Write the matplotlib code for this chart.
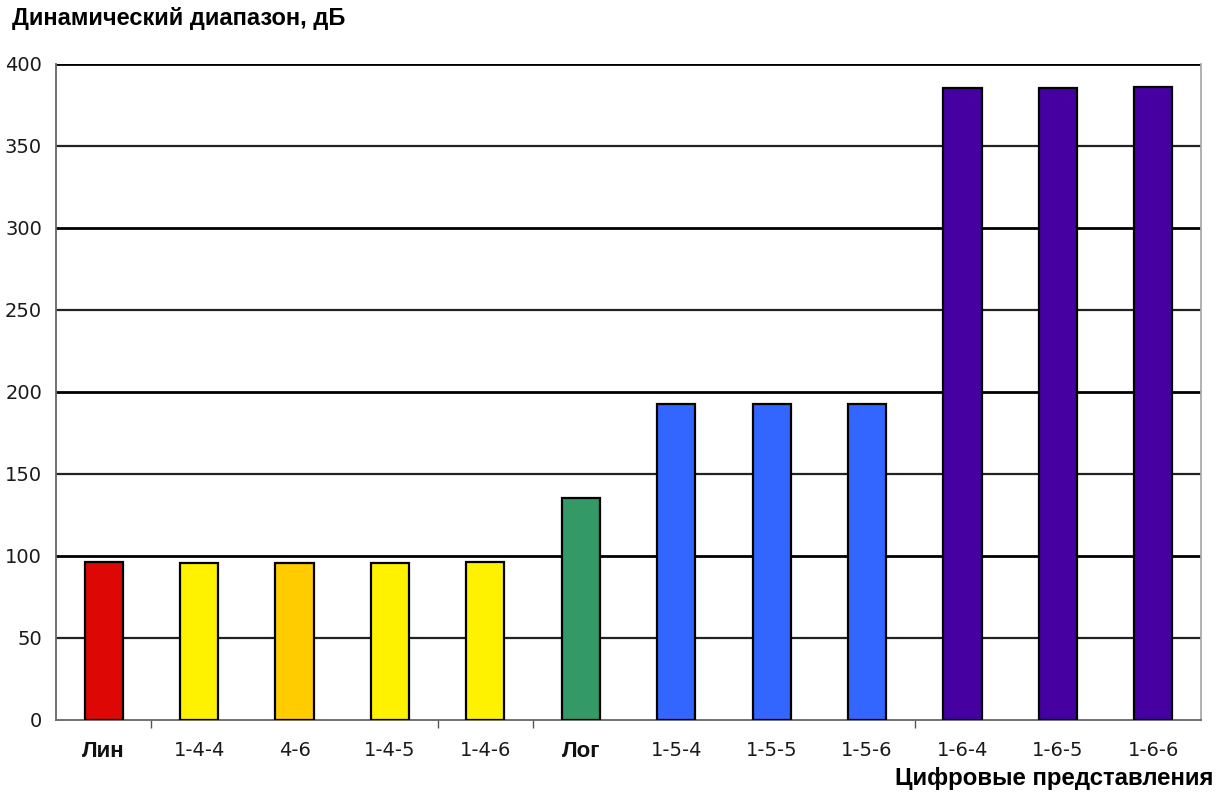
import matplotlib
matplotlib.use("Agg")
import matplotlib.pyplot as plt
from matplotlib.ticker import FixedLocator
from matplotlib.font_manager import FontProperties

# Dynamic range of each number representation, dB
categories = ["Лин", "1-4-4", "4-6", "1-4-5", "1-4-6", "Лог",
              "1-5-4", "1-5-5", "1-5-6", "1-6-4", "1-6-5", "1-6-6"]
values = [96.5, 96.0, 96.0, 96.0, 96.3, 135.4,
          192.7, 192.7, 192.8, 385.4, 385.4, 385.9]
colors = ["#DD0806", "#FFF200", "#FFCC00", "#FFF200", "#FFF200", "#339966",
          "#3366FF", "#3366FF", "#3366FF", "#4600A2", "#4600A2", "#4600A2"]
bold_labels = {"Лин", "Лог"}

y_ticks = [0, 50, 100, 150, 200, 250, 300, 350, 400]

fig = plt.figure(figsize=(12.23, 7.94), dpi=100)
ax = fig.add_axes([0.0458, 0.0932, 0.9362, 0.8262])

x = list(range(len(categories)))

# horizontal grid lines
for yv in y_ticks[1:]:
    dark = yv % 100 == 0
    ax.axhline(yv, color="#000000" if dark else "#222222",
               lw=2.0 if dark else 1.6, zorder=1)

ax.bar(x, values, width=0.4, color=colors, edgecolor="#000000",
       linewidth=1.6, zorder=3)

ax.set_xlim(-0.5, len(categories) - 0.5)
ax.set_ylim(0, 400)

ax.set_yticks(y_ticks)
ax.set_yticklabels([str(v) for v in y_ticks], fontsize=14,
                   fontfamily="DejaVu Sans", color="#1a1a1a")
ax.tick_params(axis="y", length=0, pad=10)
ax.yaxis.set_minor_locator(FixedLocator([200, 400]))
ax.tick_params(axis="y", which="minor", length=5, width=1, color="#555555")

ax.set_xticks(x)
ax.set_xticklabels(categories)
ax.tick_params(axis="x", length=0, pad=15)
big_font = FontProperties(family="Liberation Sans", weight="bold", size=16)
small_font = FontProperties(family="DejaVu Sans", size=14)
for lbl in ax.get_xticklabels():
    if lbl.get_text() in bold_labels:
        lbl.set_fontproperties(big_font)
        lbl.set_color("#111111")
    else:
        lbl.set_fontproperties(small_font)
        lbl.set_color("#1a1a1a")
ax.xaxis.set_minor_locator(FixedLocator([0.5, 3.5, 4.5, 8.5]))
ax.tick_params(axis="x", which="minor", length=6, width=1, color="#555555")

for side in ["left", "bottom"]:
    ax.spines[side].set_color("#666666")
    ax.spines[side].set_linewidth(1.3)
ax.spines["right"].set_color("#aaaaaa")
ax.spines["right"].set_linewidth(1.3)
ax.spines["top"].set_visible(False)

fig.text(0.0098, 0.977, "Динамический диапазон, дБ", fontsize=17,
         fontweight="bold", fontfamily="Liberation Sans", va="center", ha="left")
fig.text(0.992, 0.020, "Цифровые представления", fontsize=17.3,
         fontweight="bold", fontfamily="Liberation Sans", va="center", ha="right")

fig.savefig("out.png", dpi=100)
